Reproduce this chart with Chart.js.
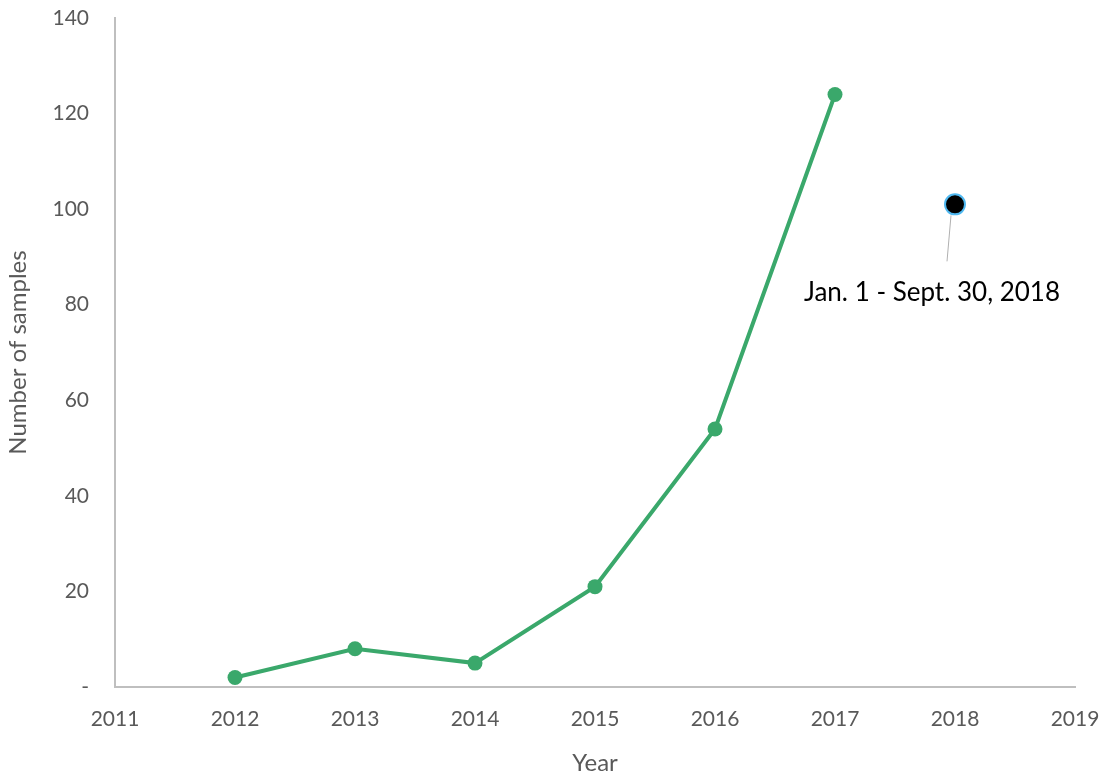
<!DOCTYPE html>
<html>
<head>
<meta charset="utf-8">
<script src="https://cdn.jsdelivr.net/npm/chart.js@4/dist/chart.umd.min.js"></script>
<style>
  html, body { margin: 0; padding: 0; background: #fff; }
  #wrap { width: 1105px; height: 782px; }
</style>
</head>
<body>
<div id="wrap"><canvas id="myChart"></canvas></div>
<script>
// data
const years = [2012, 2013, 2014, 2015, 2016, 2017];
const samples = [2, 8, 5, 21, 54, 124];
const partialYear = [2018];
const partialSamples = [101];
const partialLabel = 'Jan. 1 - Sept. 30, 2018';

const green = 'rgb(58,168,107)';
const grey = '#595959';
const fontFamily = 'Lato, "Open Sans", sans-serif';

// leader line + label for the 2018 point
const calloutPlugin = {
  id: 'callout',
  afterDatasetsDraw(chart) {
    const x = chart.scales.x.getPixelForValue(partialYear[0]);
    const y = chart.scales.y.getPixelForValue(partialSamples[0]);
    const ctx = chart.ctx;
    ctx.save();
    ctx.strokeStyle = '#b0b0b0';
    ctx.lineWidth = 1;
    ctx.beginPath();
    ctx.moveTo(x - 4, y + 11);
    ctx.lineTo(x - 8, y + 57);
    ctx.stroke();
    ctx.fillStyle = '#000';
    ctx.font = '26px ' + fontFamily;
    ctx.textAlign = 'center';
    ctx.textBaseline = 'middle';
    ctx.fillText(partialLabel, x - 23, y + 88);
    ctx.restore();
  }
};

const config = {
  type: 'line',
  data: {
    datasets: [{
      data: years.map((yr, i) => ({ x: yr, y: samples[i] })),
      borderColor: green,
      backgroundColor: green,
      borderWidth: 4,
      pointRadius: 7.5,
      pointHoverRadius: 7.5,
      pointBorderWidth: 0,
      tension: 0
    }, {
      data: partialYear.map((yr, i) => ({ x: yr, y: partialSamples[i] })),
      showLine: false,
      backgroundColor: '#000',
      borderColor: '#4fb8f0',
      pointRadius: 10,
      pointBorderWidth: 2
    }]
  },
  options: {
    responsive: true,
    maintainAspectRatio: false,
    animation: false,
    layout: { padding: { top: 18, right: 30, left: 0, bottom: 0 } },
    plugins: { legend: { display: false }, tooltip: { enabled: false } },
    scales: {
      x: {
        type: 'linear',
        min: 2011,
        max: 2019,
        grid: { display: false, drawTicks: false },
        border: { color: '#bfbfbf', width: 2 },
        ticks: {
          stepSize: 1,
          color: grey,
          padding: 20,
          font: { family: fontFamily, size: 21 },
          callback: v => String(v)
        },
        title: {
          display: true,
          text: 'Year',
          color: grey,
          font: { family: fontFamily, size: 24 },
          padding: { top: 16 }
        },
        afterFit(scale) {
          scale.height = 95;
          scale.paddingLeft = 0;
          scale.paddingRight = 0;
        }
      },
      y: {
        min: 0,
        max: 140,
        grid: { display: false, drawTicks: false },
        border: { color: '#bfbfbf', width: 2 },
        ticks: {
          stepSize: 20,
          color: grey,
          padding: 26,
          font: { family: fontFamily, size: 21 },
          callback: v => v === 0 ? '-' : String(v)
        },
        title: {
          display: true,
          text: 'Number of samples',
          color: grey,
          font: { family: fontFamily, size: 24 },
          padding: { bottom: 2 }
        },
        afterFit(scale) {
          scale.width = 115;
          scale.paddingTop = 0;
          scale.paddingBottom = 0;
        }
      }
    }
  },
  plugins: [calloutPlugin]
};

new Chart(document.getElementById('myChart'), config);
</script>
</body>
</html>
